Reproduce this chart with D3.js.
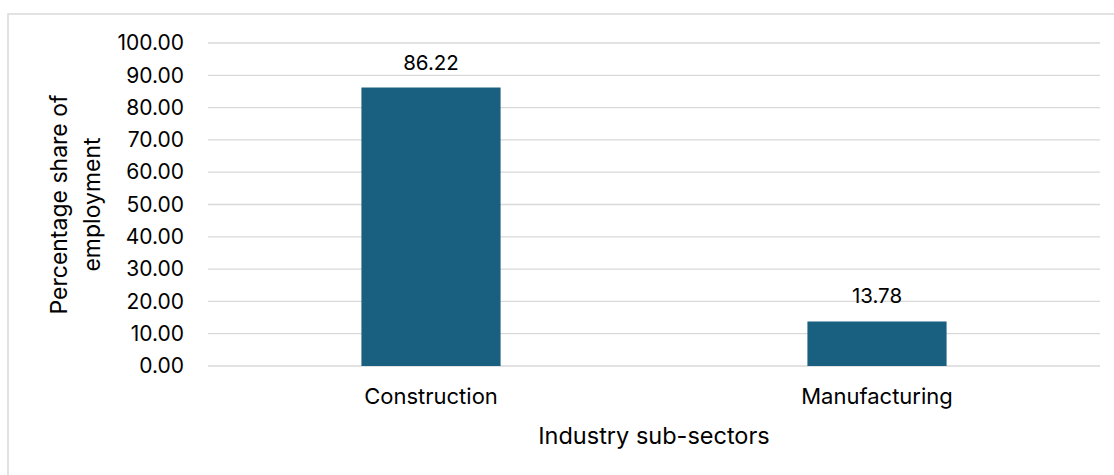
<!DOCTYPE html>
<html><head><meta charset="utf-8">
<script src="https://cdn.jsdelivr.net/npm/d3@7"></script>
<style>
html,body{margin:0;padding:0;background:#fff;}
svg{display:block;}
text{font-family:Inter,"Open Sans",sans-serif;fill:#000;}
</style></head>
<body>
<script>
const categories = ["Construction", "Manufacturing"];
const values = [86.22, 13.78];
const yTicks = [0, 10, 20, 30, 40, 50, 60, 70, 80, 90, 100];
const xTitle = "Industry sub-sectors";
const yTitleLines = ["Percentage share of", "employment"];

const W = 1114, H = 475;
const svg = d3.select("body").append("svg").attr("width", W).attr("height", H);

// chart border
svg.append("rect").attr("x", 8).attr("y", 14).attr("width", W + 10).attr("height", H + 10)
  .attr("fill", "#fff").attr("stroke", "#d9d9d9").attr("stroke-width", 1.5);

const x0 = 208, x1 = 1100, yTop = 43, yBot = 366;
const x = d3.scaleBand().domain(categories).range([x0, x1]).paddingInner(0.688).paddingOuter(0.344);
const y = d3.scaleLinear().domain([0, 100]).range([yBot, yTop]);

// gridlines
svg.append("g").selectAll("line").data(yTicks).join("line")
  .attr("x1", x0).attr("x2", x1)
  .attr("y1", d => y(d)).attr("y2", d => y(d))
  .attr("stroke", "#d9d9d9").attr("stroke-width", 1.3);

// y axis labels
const yAxis = d3.axisLeft(y).tickValues(yTicks).tickFormat(d3.format(".2f")).tickSize(0).tickPadding(0);
const gy = svg.append("g").attr("transform", `translate(184,0)`).call(yAxis);
gy.select(".domain").remove();
gy.selectAll("text").attr("font-size", 21).attr("font-family", "Inter,sans-serif").attr("fill", "#000");

// bars
svg.append("g").selectAll("rect").data(values).join("rect")
  .attr("x", (d, i) => x(categories[i]))
  .attr("width", x.bandwidth())
  .attr("y", d => y(d))
  .attr("height", d => y(0) - y(d))
  .attr("fill", "#185f80");

// data labels
svg.append("g").selectAll("text").data(values).join("text")
  .attr("x", (d, i) => x(categories[i]) + x.bandwidth() / 2)
  .attr("y", d => y(d) - 18)
  .attr("text-anchor", "middle").attr("font-size", 20.5)
  .text(d => d3.format(".2f")(d));

// x axis labels
const xAxis = d3.axisBottom(x).tickSize(0).tickPadding(0);
const gx = svg.append("g").attr("transform", `translate(0,${yBot})`).call(xAxis);
gx.select(".domain").remove();
gx.selectAll("text").attr("font-size", 22).attr("font-family", "Inter,sans-serif").attr("fill", "#000")
  .attr("dy", null).attr("y", 38);

// x title
svg.append("text").attr("x", (x0 + x1) / 2).attr("y", 444)
  .attr("text-anchor", "middle").attr("font-size", 23.5).text(xTitle);

// y title
const yt = svg.append("text").attr("transform", `translate(0,${(yTop + yBot) / 2}) rotate(-90)`)
  .attr("text-anchor", "middle").attr("font-size", 23);
yt.selectAll("tspan").data(yTitleLines).join("tspan")
  .attr("x", 0).attr("y", (d, i) => 67 + i * 33).text(d => d);
</script>
</body></html>
